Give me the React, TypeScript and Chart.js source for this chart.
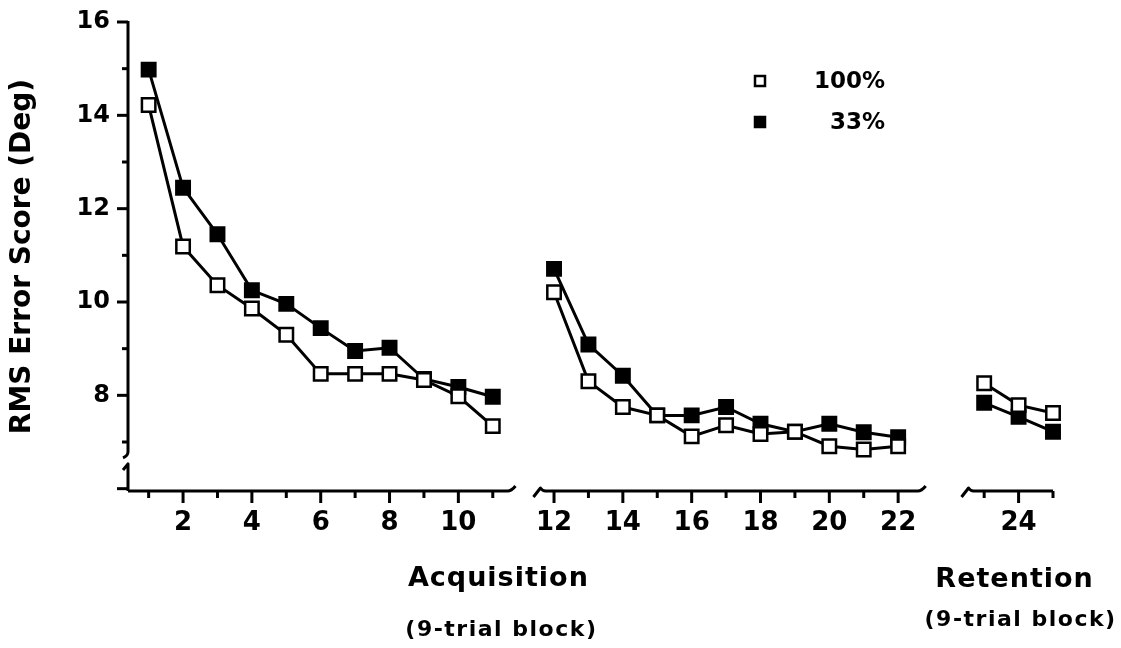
import React, { useEffect, useRef } from 'react';
import { Chart, registerables } from 'chart.js';

Chart.register(...registerables);

// ---- data ----
const acqBlocksA = [1, 2, 3, 4, 5, 6, 7, 8, 9, 10, 11];
const acqBlocksB = [12, 13, 14, 15, 16, 17, 18, 19, 20, 21, 22];
const retBlocks = [23, 24, 25];

const full100AcqA = [14.22, 11.19, 10.36, 9.86, 9.3, 8.46, 8.46, 8.46, 8.33, 7.98, 7.34];
const partial33AcqA = [14.98, 12.45, 11.45, 10.25, 9.96, 9.44, 8.95, 9.02, 8.35, 8.18, 7.97];
const full100AcqB = [10.21, 8.3, 7.75, 7.57, 7.12, 7.36, 7.17, 7.22, 6.91, 6.84, 6.91];
const partial33AcqB = [10.71, 9.09, 8.42, 7.57, 7.57, 7.75, 7.39, 7.22, 7.39, 7.21, 7.1];
const full100Ret = [8.26, 7.79, 7.62];
const partial33Ret = [7.84, 7.54, 7.22];

const seriesLabels = ['100%', '33%'];
const yTickLabels = [8, 10, 12, 14, 16];
const xTickLabels = [2, 4, 6, 8, 10, 12, 14, 16, 18, 20, 22, 24];
const yTitle = 'RMS Error Score (Deg)';
const sectionTitles = ['Acquisition', 'Retention'];
const sectionSubtitle = '(9-trial block)';

// ---- axis segment configuration (broken x axis) ----
const segments = [
  { id: 'xa1', blocks: acqBlocksA, min: 0.4, max: 11.95, lineFrom: 0.4, lineTo: 11.66, breakStart: false, breakEnd: true },
  { id: 'xa2', blocks: acqBlocksB, min: 11.17, max: 23.35, lineFrom: 11.46, lineTo: 22.8, breakStart: true, breakEnd: true },
  { id: 'xr', blocks: retBlocks, min: 21.85, max: 25.0, lineFrom: 22.4, lineTo: 25.0, breakStart: true, breakEnd: false },
];
const segmentSeries = [
  [full100AcqA, partial33AcqA],
  [full100AcqB, partial33AcqB],
  [full100Ret, partial33Ret],
];

const Y_MIN = 5.95;
const Y_MAX = 16;
const Y_BREAK = [6.53, 6.79];
const FONT = "'DejaVu Sans', sans-serif";

const seriesFill = ['#ffffff', '#000000'];

const brokenAxesPlugin = {
  id: 'brokenAxes',
  beforeDatasetsDraw(chart: any) {
    const ctx = chart.ctx;
    const { top, bottom, left } = chart.chartArea;
    const ys = chart.scales.y;
    ctx.save();
    ctx.strokeStyle = '#000';
    ctx.lineWidth = 3;
    ctx.lineCap = 'butt';
    ctx.lineJoin = 'round';

    // y axis with break
    const pHi = ys.getPixelForValue(Y_BREAK[1]);
    const pLo = ys.getPixelForValue(Y_BREAK[0]);
    ctx.beginPath();
    ctx.moveTo(left, top - 1);
    ctx.lineTo(left, pHi);
    ctx.quadraticCurveTo(left, pHi + 4, left - 5, pHi + 6);
    ctx.stroke();
    ctx.beginPath();
    ctx.moveTo(left - 5, pLo + 6);
    ctx.lineTo(left, pLo);
    ctx.lineTo(left, bottom);
    ctx.stroke();

    // y ticks
    for (const t of ys.ticks) {
      const v = t.value;
      const y = ys.getPixelForValue(v);
      const len = Math.round(v) % 2 === 0 ? 11 : 6;
      ctx.beginPath();
      ctx.moveTo(left - len, y);
      ctx.lineTo(left, y);
      ctx.stroke();
    }

    // x axis segments
    for (const seg of segments) {
      const sc = chart.scales[seg.id];
      const x0 = sc.getPixelForValue(seg.lineFrom);
      const x1 = sc.getPixelForValue(seg.lineTo);
      ctx.beginPath();
      if (seg.breakStart) {
        ctx.moveTo(x0 - 2, bottom + 6);
        ctx.lineTo(x0 + 5, bottom - 3);
        ctx.quadraticCurveTo(x0 + 7, bottom, x0 + 10, bottom);
      } else {
        ctx.moveTo(x0, bottom);
      }
      if (seg.breakEnd) {
        ctx.lineTo(x1 - 8, bottom);
        ctx.quadraticCurveTo(x1 - 4, bottom, x1, bottom - 5);
      } else {
        ctx.lineTo(x1, bottom);
      }
      ctx.stroke();
      for (const t of sc.ticks) {
        const v = t.value;
        const x = sc.getPixelForValue(v);
        const len = Math.round(v) % 2 === 0 ? 12 : 7;
        ctx.beginPath();
        ctx.moveTo(x, bottom);
        ctx.lineTo(x, bottom + len);
        ctx.stroke();
      }
    }
    ctx.restore();
  },
  afterDraw(chart: any) {
    const ctx = chart.ctx;
    const a1 = chart.scales.xa1;
    const a2 = chart.scales.xa2;
    const r = chart.scales.xr;
    ctx.save();
    ctx.fillStyle = '#000';
    ctx.textAlign = 'center';
    ctx.textBaseline = 'middle';

    // section titles
    const acqCenter = (a1.getPixelForValue(1) + a2.getPixelForValue(22)) / 2 - 25;
    const retCenter = r.getPixelForValue(24) - 4;
    ctx.font = `bold 27px ${FONT}`;
    (ctx as any).letterSpacing = '1px';
    ctx.fillText(sectionTitles[0], acqCenter, 579);
    ctx.fillText(sectionTitles[1], retCenter, 580);
    ctx.font = `bold 22px ${FONT}`;
    (ctx as any).letterSpacing = '1.5px';
    ctx.fillText(sectionSubtitle, acqCenter + 3, 630);
    ctx.fillText(sectionSubtitle, retCenter + 6, 620);
    (ctx as any).letterSpacing = '0px';

    // legend
    const lx = 760;
    const ly = [81, 122];
    const textRight = 885;
    ctx.font = `bold 23px ${FONT}`;
    ctx.textAlign = 'right';
    for (let i = 0; i < seriesLabels.length; i++) {
      ctx.lineWidth = 2.5;
      ctx.strokeStyle = '#000';
      ctx.fillStyle = seriesFill[i];
      ctx.fillRect(lx - 5, ly[i] - 5, 10, 10);
      ctx.strokeRect(lx - 5, ly[i] - 5, 10, 10);
      ctx.fillStyle = '#000';
      ctx.fillText(seriesLabels[i], textRight, ly[i] + 1);
    }
    ctx.restore();
  },
};

export default function App() {
  const canvasRef = useRef<HTMLCanvasElement | null>(null);

  useEffect(() => {
    const canvas = canvasRef.current;
    if (!canvas) return;
    Chart.defaults.font.family = FONT;
    Chart.defaults.color = '#000';

    const datasets: any[] = [];
    segments.forEach((seg, si) => {
      seriesLabels.forEach((label, k) => {
        const vals = segmentSeries[si][k];
        datasets.push({
          label,
          data: seg.blocks.map((b, i) => ({ x: b, y: vals[i] })),
          xAxisID: seg.id,
          yAxisID: 'y',
          borderColor: '#000',
          borderWidth: 3,
          pointStyle: 'rect',
          pointRadius: 9.5,
          pointBackgroundColor: seriesFill[k],
          pointBorderColor: '#000',
          pointBorderWidth: 2.5,
          tension: 0,
          clip: false,
          order: k,
        });
      });
    });

    const scales: any = {
      y: {
        type: 'linear',
        position: 'left',
        min: Y_MIN,
        max: Y_MAX,
        ticks: {
          stepSize: 1,
          includeBounds: false,
          autoSkip: false,
          padding: 18,
          color: '#000',
          font: { size: 24, weight: 'bold', family: FONT },
          callback: (v: any) => (yTickLabels.includes(Number(v)) ? String(v) : ''),
        },
        grid: { display: false, drawTicks: false },
        border: { display: false },
        title: {
          display: true,
          text: yTitle,
          color: '#000',
          font: { size: 28, weight: 'bold', family: FONT },
          padding: { top: 6, bottom: 0 },
        },
        afterFit: (s: any) => {
          s.width = 128;
          s.paddingTop = 0;
          s.paddingBottom = 0;
        },
      },
    };
    segments.forEach((seg) => {
      scales[seg.id] = {
        type: 'linear',
        position: 'bottom',
        stack: 'blocks',
        stackWeight: seg.max - seg.min,
        min: seg.min,
        max: seg.max,
        afterBuildTicks: (s: any) => {
          s.ticks = s.ticks.filter((t: any) => seg.blocks.includes(t.value));
        },
        ticks: {
          stepSize: 1,
          includeBounds: false,
          autoSkip: false,
          maxRotation: 0,
          padding: 17,
          color: '#000',
          font: { size: 26, weight: 'bold', family: FONT },
          callback: (v: any) => (xTickLabels.includes(Number(v)) ? String(v) : ''),
        },
        grid: { display: false, drawTicks: false },
        border: { display: false },
        afterFit: (s: any) => {
          s.height = 157;
          s.paddingLeft = 0;
          s.paddingRight = 0;
        },
      };
    });

    const chart = new Chart(canvas, {
      type: 'line',
      data: { datasets },
      options: {
        animation: false,
        responsive: true,
        maintainAspectRatio: false,
        events: [],
        layout: { autoPadding: false, padding: { top: 22, right: 68, bottom: 0, left: 0 } },
        scales,
        plugins: {
          legend: { display: false },
          tooltip: { enabled: false },
        },
      } as any,
      plugins: [brokenAxesPlugin],
    });
    return () => chart.destroy();
  }, []);

  return (
    <div style={{ position: 'fixed', left: 0, top: 0, width: 1121, height: 648, background: '#fff' }}>
      <canvas ref={canvasRef} />
    </div>
  );
}
